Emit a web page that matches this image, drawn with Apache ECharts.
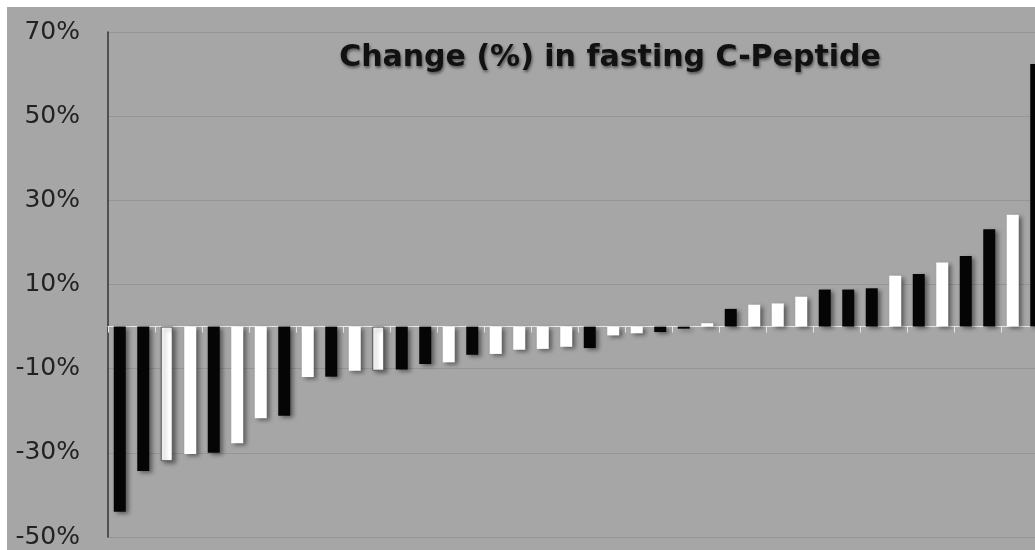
<!DOCTYPE html>
<html>
<head>
<meta charset="utf-8">
<script src="https://cdn.jsdelivr.net/npm/echarts@6/dist/echarts.min.js"></script>
<style>
	body { margin: 0; background: #fff; }
	#wrap { position: relative; width: 1035px; height: 550px; background: #fff; overflow: hidden; }
	#main { position: absolute; left: 7px; top: 7px; width: 1041px; height: 543px; }
</style>
</head>
<body>
<div id="wrap"><div id="main"></div></div>
<script>
// one bar per patient, sorted by change
var patients = [];
for (var i = 1; i <= 40; i++) { patients.push('P' + i); }
var changes = [-44, -34.3, -32, -30.3, -30, -27.7, -21.8, -21.2, -12, -11.9,
	-10.5, -10.5, -10.2, -8.9, -8.5, -6.7, -6.5, -5.5, -5.3, -4.8,
	-5.1, -2.1, -1.6, -1.3, -0.5, 0.8, 4.2, 5.2, 5.5, 7.1,
	8.8, 8.8, 9.1, 12.1, 12.5, 15.2, 16.8, 23.1, 26.6, 62.4];
// B = black bar group, W = white bar group
var groups = ['B','B','W','W','B','W','W','B','W','B',
	'W','W','B','B','W','B','W','W','W','W',
	'B','W','W','B','B','W','B','W','W','W',
	'B','B','B','W','B','W','B','B','W','B'];
var titleText = 'Change (%) in fasting C-Peptide';

var chart = echarts.init(document.getElementById('main'));
var colorMap = { 'B': '#050505', 'W': '#ffffff' };
var outlined = [2, 11];

var barData = changes.map(function (v, i) {
	var item = { value: v, itemStyle: { color: colorMap[groups[i]] } };
	if (outlined.indexOf(i) >= 0) {
		item.itemStyle.borderColor = '#555';
		item.itemStyle.borderWidth = 1;
	}
	return item;
});

var option = {
	backgroundColor: '#a6a6a6',
	animation: false,
	title: {
		text: titleText,
		left: 598,
		textAlign: 'center',
		top: 31,
		textStyle: {
			fontFamily: 'DejaVu Sans',
			fontWeight: 'bold',
			fontSize: 30,
			color: '#111',
			textShadowColor: 'rgba(0,0,0,0.5)',
			textShadowBlur: 3,
			textShadowOffsetX: 1,
			textShadowOffsetY: 2
		}
	},
	grid: {
		left: 101,
		right: 0,
		top: 25,
		bottom: 13,
		containLabel: false
	},
	xAxis: {
		type: 'category',
		data: patients,
		axisLine: { onZero: true, lineStyle: { color: '#e8e8e8', width: 1 } },
		axisTick: { show: true, length: 6, lineStyle: { color: '#e8e8e8' } },
		axisLabel: { show: false },
		splitLine: { show: false }
	},
	yAxis: {
		type: 'value',
		min: -50,
		max: 70,
		interval: 20,
		axisLine: { show: true, lineStyle: { color: '#333', width: 1.5 } },
		axisTick: { show: false },
		axisLabel: {
			formatter: '{value}%',
			fontFamily: 'DejaVu Sans',
			fontSize: 25,
			color: '#222',
			margin: 28
		},
		splitLine: { lineStyle: { color: '#959595', width: 1 } }
	},
	series: [{
		type: 'bar',
		barWidth: 12,
		data: barData,
		itemStyle: {
			shadowColor: 'rgba(0,0,0,0.45)',
			shadowBlur: 4,
			shadowOffsetX: 3,
			shadowOffsetY: 2
		}
	}]
};
chart.setOption(option);
</script>
</body>
</html>
